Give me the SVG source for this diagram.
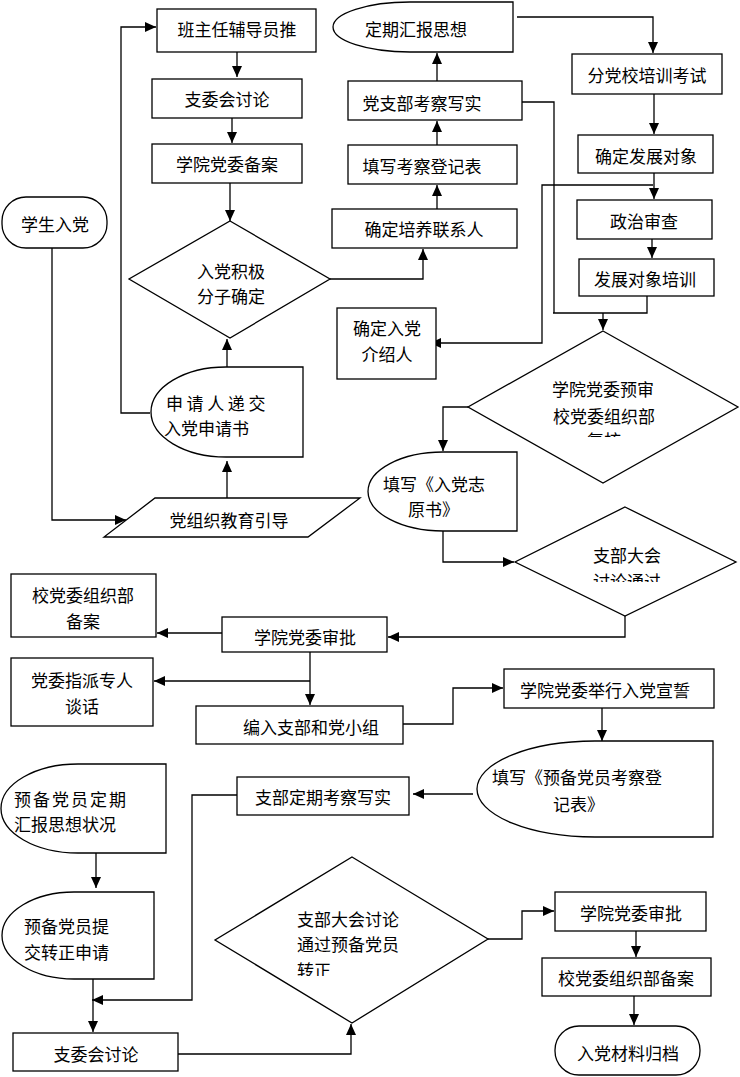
<svg xmlns="http://www.w3.org/2000/svg" width="740" height="1077" viewBox="0 0 740 1077">
<style>
.s{fill:#fff;stroke:#000;stroke-width:1.3}
.t{font-family:"Noto Sans CJK SC","Noto Sans CJK JP",sans-serif;font-size:17px;fill:#000;dominant-baseline:central}
.c{text-anchor:middle}
.l{fill:none;stroke:#000;stroke-width:1.3}
</style>
<defs>
<marker id="a" markerUnits="userSpaceOnUse" markerWidth="12" markerHeight="10" refX="11" refY="5" orient="auto">
<path d="M0,0 L11,5 L0,10 Z" fill="#000"/>
</marker>
<clipPath id="c1"><rect x="540" y="370" width="140" height="67"/></clipPath>
<clipPath id="c2"><rect x="560" y="530" width="140" height="52"/></clipPath>
<clipPath id="c3"><rect x="280" y="890" width="150" height="86"/></clipPath>
</defs>
<rect width="740" height="1077" fill="#fff"/>

<g id="connectors">
<path class="l" d="M237,52 V77" marker-end="url(#a)"/>
<path class="l" d="M232,118 V143" marker-end="url(#a)"/>
<path class="l" d="M230,183 V221" marker-end="url(#a)"/>
<path class="l" d="M227,367 V339" marker-end="url(#a)"/>
<path class="l" d="M227,498 V461" marker-end="url(#a)"/>
<path class="l" d="M52,248 V520 H126" marker-end="url(#a)"/>
<path class="l" d="M150,413 H121 V27 H156" marker-end="url(#a)"/>
<path class="l" d="M330,279 H423 V249" marker-end="url(#a)"/>
<path class="l" d="M437,209 V185" marker-end="url(#a)"/>
<path class="l" d="M437,145 V121" marker-end="url(#a)"/>
<path class="l" d="M437,81 V53" marker-end="url(#a)"/>
<path class="l" d="M517,17 H653 V53" marker-end="url(#a)"/>
<path class="l" d="M654,94 V134" marker-end="url(#a)"/>
<path class="l" d="M654,173 V199" marker-end="url(#a)"/>
<path class="l" d="M653,185 H542 V343 H430" marker-end="url(#a)"/>
<path class="l" d="M652,239 V258" marker-end="url(#a)"/>
<path class="l" d="M522,102 H554 V313"/>
<path class="l" d="M647,296 V313 H553"/>
<path class="l" d="M603,313 V330" marker-end="url(#a)"/>
<path class="l" d="M468,407 H443 V451" marker-end="url(#a)"/>
<path class="l" d="M443,531 V562 H514" marker-end="url(#a)"/>
<path class="l" d="M625,616 V637 H388" marker-end="url(#a)"/>
<path class="l" d="M222,633 H157" marker-end="url(#a)"/>
<path class="l" d="M310,652 V705" marker-end="url(#a)"/>
<path class="l" d="M310,681 H154" marker-end="url(#a)"/>
<path class="l" d="M403,724 H453 V688 H503" marker-end="url(#a)"/>
<path class="l" d="M602,708 V741" marker-end="url(#a)"/>
<path class="l" d="M473,794 H413" marker-end="url(#a)"/>
<path class="l" d="M96,853 V888" marker-end="url(#a)"/>
<path class="l" d="M237,795 H192 V1000 H92" marker-end="url(#a)"/>
<path class="l" d="M93,979 V1032" marker-end="url(#a)"/>
<path class="l" d="M178,1054 H351 V1024" marker-end="url(#a)"/>
<path class="l" d="M488,939 H522 V911 H554" marker-end="url(#a)"/>
<path class="l" d="M636,931 V957" marker-end="url(#a)"/>
<path class="l" d="M634,996 V1025" marker-end="url(#a)"/>
</g>

<g id="n1"><rect class="s" x="157" y="9" width="159" height="43"/><text class="t c" x="237" y="28">班主任辅导员推</text></g>
<g id="n2"><rect class="s" x="152" y="79" width="150" height="39"/><text class="t c" x="227" y="98">支委会讨论</text></g>
<g id="n3"><rect class="s" x="152" y="144" width="150" height="39"/><text class="t c" x="227" y="163">学院党委备案</text></g>
<g id="n4"><rect class="s" x="2" y="197" width="105" height="51" rx="24"/><text class="t c" x="55" y="223">学生入党</text></g>
<g id="n5"><path class="s" d="M230,221 L330,279 L230,338 L129,279 Z"/><text class="t c" x="231" y="270">入党积极</text><text class="t c" x="231" y="295">分子确定</text></g>
<g id="n6"><path class="s" d="M303,367 H226 A75,45 0 0 0 226,457 H303 Z"/><text class="t" x="166" y="402" letter-spacing="3.6">申请人递交</text><text class="t" x="164" y="427">入党申请书</text></g>
<g id="n7"><path class="s" d="M155,498 H360 L308,537 H104 Z"/><text class="t c" x="229" y="519">党组织教育引导</text></g>
<g id="n8"><path class="s" d="M513,2 H410 A77,25 0 0 0 410,52 H513 Z"/><text class="t c" x="416" y="28">定期汇报思想</text></g>
<g id="n9"><rect class="s" x="348" y="81" width="174" height="39"/><text class="t c" x="422" y="102">党支部考察写实</text></g>
<g id="n10"><rect class="s" x="348" y="145" width="169" height="39"/><text class="t c" x="422" y="165">填写考察登记表</text></g>
<g id="n11"><rect class="s" x="332" y="209" width="185" height="39"/><text class="t c" x="424" y="228">确定培养联系人</text></g>
<g id="n12"><rect class="s" x="572" y="54" width="150" height="40"/><text class="t c" x="647" y="74">分党校培训考试</text></g>
<g id="n13"><rect class="s" x="578" y="135" width="135" height="38"/><text class="t c" x="646" y="155">确定发展对象</text></g>
<g id="n14"><rect class="s" x="577" y="200" width="135" height="39"/><text class="t c" x="644" y="220">政治审查</text></g>
<g id="n15"><rect class="s" x="579" y="259" width="135" height="37"/><text class="t c" x="645" y="278">发展对象培训</text></g>
<g id="n16"><rect class="s" x="337" y="308" width="99" height="71"/><text class="t c" x="387" y="327">确定入党</text><text class="t c" x="387" y="353">介绍人</text></g>
<g id="n17"><path class="s" d="M603,331 L738,407 L603,483 L468,407 Z"/><text class="t c" x="603" y="388">学院党委预审</text><text class="t c" x="604" y="415">校党委组织部</text><text class="t c" x="604" y="439" clip-path="url(#c1)">复核</text></g>
<g id="n18"><path class="s" d="M517,452 H443 A75,39.5 0 0 0 443,531 H517 Z"/><text class="t" x="383" y="483">填写《入党志</text><text class="t" x="408" y="508">原书》</text></g>
<g id="n19"><path class="s" d="M625,507 L736,562 L625,616 L515,562 Z"/><text class="t c" x="627" y="554">支部大会</text><text class="t c" x="627" y="580" clip-path="url(#c2)">讨论通过</text></g>
<g id="n20"><rect class="s" x="11" y="574" width="145" height="63"/><text class="t c" x="83" y="594">校党委组织部</text><text class="t c" x="83" y="620">备案</text></g>
<g id="n21"><rect class="s" x="222" y="617" width="165" height="35"/><text class="t c" x="305" y="636">学院党委审批</text></g>
<g id="n22"><rect class="s" x="11" y="658" width="142" height="68"/><text class="t c" x="82" y="679">党委指派专人</text><text class="t c" x="82" y="705">谈话</text></g>
<g id="n23"><rect class="s" x="196" y="706" width="207" height="38"/><text class="t" x="243" y="726">编入支部和党小组</text></g>
<g id="n24"><rect class="s" x="504" y="669" width="210" height="39"/><text class="t c" x="605" y="689">学院党委举行入党宣誓</text></g>
<g id="n25"><path class="s" d="M713,741 H595 A118,48 0 0 0 595,837 H713 Z"/><text class="t" x="492" y="776">填写《预备党员考察登</text><text class="t" x="553" y="803">记表》</text></g>
<g id="n26"><rect class="s" x="237" y="777" width="172" height="38"/><text class="t c" x="323" y="796">支部定期考察写实</text></g>
<g id="n27"><path class="s" d="M166,764 H78 A77,44.5 0 0 0 78,853 H166 Z"/><text class="t" x="14" y="798" letter-spacing="2">预备党员定期</text><text class="t" x="14" y="823">汇报思想状况</text></g>
<g id="n28"><path class="s" d="M154,892 H74 A72,43.5 0 0 0 74,979 H154 Z"/><text class="t" x="24" y="925">预备党员提</text><text class="t" x="24" y="951">交转正申请</text></g>
<g id="n29"><rect class="s" x="13" y="1033" width="165" height="38"/><text class="t c" x="96" y="1053">支委会讨论</text></g>
<g id="n30"><path class="s" d="M352,857 L488,939 L352,1023 L215,940 Z"/><text class="t" x="297" y="918">支部大会讨论</text><text class="t" x="297" y="943">通过预备党员</text><text class="t" x="297" y="969" clip-path="url(#c3)">转正</text></g>
<g id="n31"><rect class="s" x="555" y="892" width="151" height="39"/><text class="t c" x="631" y="912">学院党委审批</text></g>
<g id="n32"><rect class="s" x="542" y="958" width="169" height="38"/><text class="t c" x="626" y="977">校党委组织部备案</text></g>
<g id="n33"><rect class="s" x="555" y="1026" width="145" height="49" rx="24"/><text class="t c" x="628" y="1052">入党材料归档</text></g>
</svg>
